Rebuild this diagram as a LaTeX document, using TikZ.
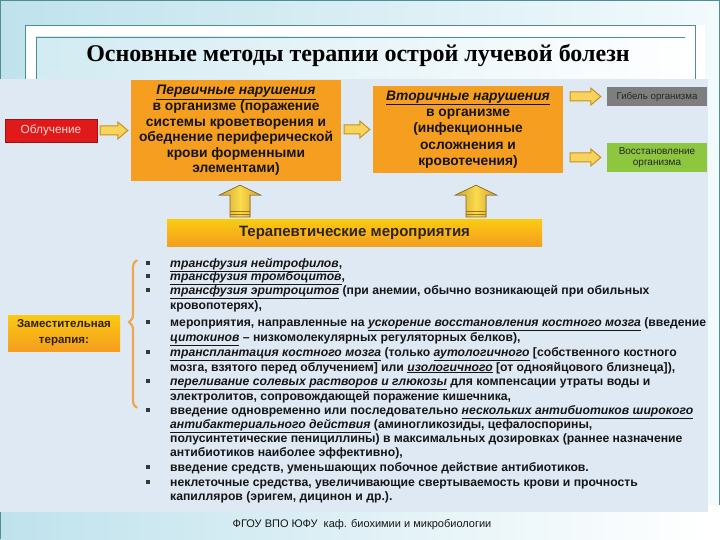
\documentclass[tikz,border=0pt]{standalone}
\usepackage{fontspec}
\setmainfont{Liberation Sans}
\newfontfamily\titlefont{Liberation Serif}
\usetikzlibrary{calc,decorations.pathreplacing}
\definecolor{tealline}{HTML}{4C8F97}
\definecolor{skyA}{HTML}{BFE2ED}
\definecolor{skyB}{HTML}{F2FAFC}
\definecolor{paper}{HTML}{DFE9F4}
\definecolor{boxor}{HTML}{F59E1F}
\definecolor{boxred}{HTML}{E01A1A}
\definecolor{boxgray}{HTML}{7E7E7E}
\definecolor{boxgreen}{HTML}{8DC63F}
\definecolor{arrfill}{HTML}{F8D45C}
\definecolor{arrline}{HTML}{C8901E}
\definecolor{bracecol}{HTML}{E9A94C}
\definecolor{txt}{HTML}{151515}
\newcommand\ulit[1]{\underline{\textit{#1}}}
\newcommand\harrow[2]{%
  \filldraw[arrsty] ($#1+(0,-4.5)$) -- ($#2+(-10,-4.5)$) -- ($#2+(-10,-8.5)$) -- #2
    -- ($#2+(-10,8.5)$) -- ($#2+(-10,4.5)$) -- ($#1+(0,4.5)$) -- cycle;}
\newcommand\uparr[2]{%
  \filldraw[uparrsty] ($#1+(-10,0)$) -- ($#2+(-10,10)$) -- ($#2+(-21,10)$) -- #2
    -- ($#2+(21,10)$) -- ($#2+(10,10)$) -- ($#1+(10,0)$) -- cycle;
  \draw[arrline!80!black,line width=0.6pt] ($#1+(-10,-3)$) -- ($#1+(10,-3)$)
    ($#1+(-10,-6)$) -- ($#1+(10,-6)$);}
\tikzset{
  arrsty/.style={fill=arrfill,draw=arrline,line width=1pt,line join=miter},
  uparrsty/.style={left color=arrline!90!white,right color=arrline!90!white,middle color=arrfill!80!yellow,draw=arrline!70!black,line width=0.6pt},
  bigbox/.style={fill=boxor,align=center,inner sep=0pt,text=txt,font=\bfseries\fontsize{13.8}{15.6}\selectfont},
  li/.style={anchor=base west,inner sep=0pt,text=txt,font=\bfseries\fontsize{12.2}{13}\selectfont},
  bul/.style={fill=txt!85!white,draw=none,minimum size=3.4pt,inner sep=0pt},
}
\begin{document}
\begin{tikzpicture}[x=1pt,y=-1pt]
\useasboundingbox (0,0) rectangle (720,540);
% outer background
\shade[left color=skyA,right color=skyB] (0,0) rectangle (720,540);
\draw[tealline,line width=1.2pt] (0.6,0.6) rectangle (719.4,539.4);
% white frame
\fill[white] (25,25) rectangle (705,540);
\shade[left color=skyA!70!white,right color=white] (36,37) rectangle (695,79);
\draw[tealline,line width=0.8pt] (36,79) -- (36,37) -- (685,37);
\draw[tealline,line width=0.8pt] (25,79) -- (25,25) -- (695,25) -- (695,79);
% title
\node[font=\titlefont\bfseries\fontsize{24}{28}\selectfont,anchor=base,inner sep=0] (title) at (358,62) {Основные методы терапии острой лучевой болезн};
% picture area
\fill[paper] (0,79) rectangle (708,512);
% bottom strip
\shade[left color=skyA,right color=white] (0,512) rectangle (708,540);
\fill[white] (708,505) rectangle (720,540);
\draw[tealline,line width=1.2pt] (0.6,512) -- (0.6,539.4);
\node[font=\fontsize{11}{12}\selectfont,text=txt,inner sep=0] (foot) at (362,525) {ФГОУ ВПО ЮФУ\ \ каф. биохимии и микробиологии};

% main boxes
\node[fill=boxred,draw=boxred!70!black,line width=0.4pt,minimum width=92pt,minimum height=23pt,inner sep=0,text=white!85!red,font=\fontsize{11.8}{13}\selectfont] (obl) at (51,130.5) {Облучение};
\node[bigbox,minimum width=210pt,minimum height=101pt] (p1) at (236,130.5)
  {\ulit{Первичные нарушения}\\в организме (поражение\\системы кроветворения и\\обеднение периферической\\крови форменными\\элементами)};
\node[bigbox,minimum width=190pt,minimum height=87pt,font=\bfseries\fontsize{13.8}{16.2}\selectfont] (p2) at (468,129.5)
  {\ulit{Вторичные нарушения}\\в организме\\(инфекционные\\осложнения и\\кровотечения)};
\node[fill=boxgray,minimum width=100pt,minimum height=19pt,inner sep=0,text=black!85!white,font=\fontsize{9.7}{10}\selectfont] (gib) at (657,96.5) {Гибель организма};
\node[fill=boxgreen,minimum width=100pt,minimum height=29pt,inner sep=0,align=center,text=black!85!white,font=\fontsize{10}{11}\selectfont] (vos) at (657,157.5) {Восстановление\\организма};
\node[top color=boxor!55!yellow,bottom color=boxor,minimum width=375pt,minimum height=26pt,inner sep=0,text=txt!85!brown,font=\bfseries\fontsize{15}{17}\selectfont] (ter) at (354.5,233) {Терапевтические мероприятия};
\node[top color=boxor!55!yellow,bottom color=boxor,minimum width=112pt,minimum height=36pt,inner sep=0,align=center,text=black!75!brown,font=\bfseries\fontsize{11.5}{16}\selectfont] (zam) at (64,333) {Заместительная\\терапия:};

% horizontal arrows
\harrow{($(obl.east)+(3,0)$)}{($(obl.east -| p1.west)+(-3,0)$)}
\harrow{($(p1.east |- p2.west)+(3,0)$)}{($(p2.west)+(-3,0)$)}
\harrow{($(p2.east |- gib.west)+(7,0)$)}{($(gib.west)+(-6,0)$)}
\harrow{($(p2.east |- vos.west)+(7,0)$)}{($(vos.west)+(-6,0)$)}
% up arrows
\coordinate (u1) at (240,217);
\coordinate (u2) at (476,217);
\uparr{(u1)}{($(u1 |- p1.south)+(0,4)$)}
\uparr{(u2)}{($(u2 |- p2.south)+(0,12)$)}

% brace
\draw[bracecol,line width=2.2pt,decorate,decoration={brace,amplitude=8pt,aspect=0.58}]
  (137,408) -- (137,260);

% bullets
\foreach \y in {263,276,290,322,352,381,410,467,482}
  \node[bul] at (148,\y) {};
% list
\node[li] (l1) at (170,267) {\ulit{трансфузия нейтрофилов},};
\node[li] (l2) at (170,280.5) {\ulit{трансфузия тромбоцитов},};
\node[li] (l3) at (170,294.5) {\ulit{трансфузия эритроцитов} (при анемии, обычно возникающей при обильных};
\node[li] (l4) at (170,309) {кровопотерях),};
\node[li] (l5) at (170,326) {мероприятия, направленные на \ulit{ускорение восстановления костного мозга} (введение};
\node[li] (l6) at (170,341) {\ulit{цитокинов} – низкомолекулярных регуляторных белков),};
\node[li] (l7) at (170,356.5) {\ulit{трансплантация костного мозга} (только \ulit{аутологичного} [собственного костного};
\node[li] (l8) at (170,371) {мозга, взятого перед облучением] или \ulit{изологичного} [от однояйцового близнеца]),};
\node[li] (l9) at (170,385.5) {\ulit{переливание солевых растворов и глюкозы} для компенсации утраты воды и};
\node[li] (l10) at (170,400) {электролитов, сопровождающей поражение кишечника,};
\node[li] (l11) at (170,414.5) {введение одновременно или последовательно \ulit{нескольких антибиотиков широкого}};
\node[li] (l12) at (170,428.5) {\ulit{антибактериального действия} (аминогликозиды, цефалоспорины,};
\node[li] (l13) at (170,442.5) {полусинтетические пенициллины) в максимальных дозировках (раннее назначение};
\node[li] (l14) at (170,456.5) {антибиотиков наиболее эффективно),};
\node[li] (l15) at (170,471) {введение средств, уменьшающих побочное действие антибиотиков.};
\node[li] (l16) at (170,486) {неклеточные средства, увеличивающие свертываемость крови и прочность};
\node[li] (l17) at (170,500.5) {капилляров (эригем, дицинон и др.).};
\end{tikzpicture}
\end{document}
